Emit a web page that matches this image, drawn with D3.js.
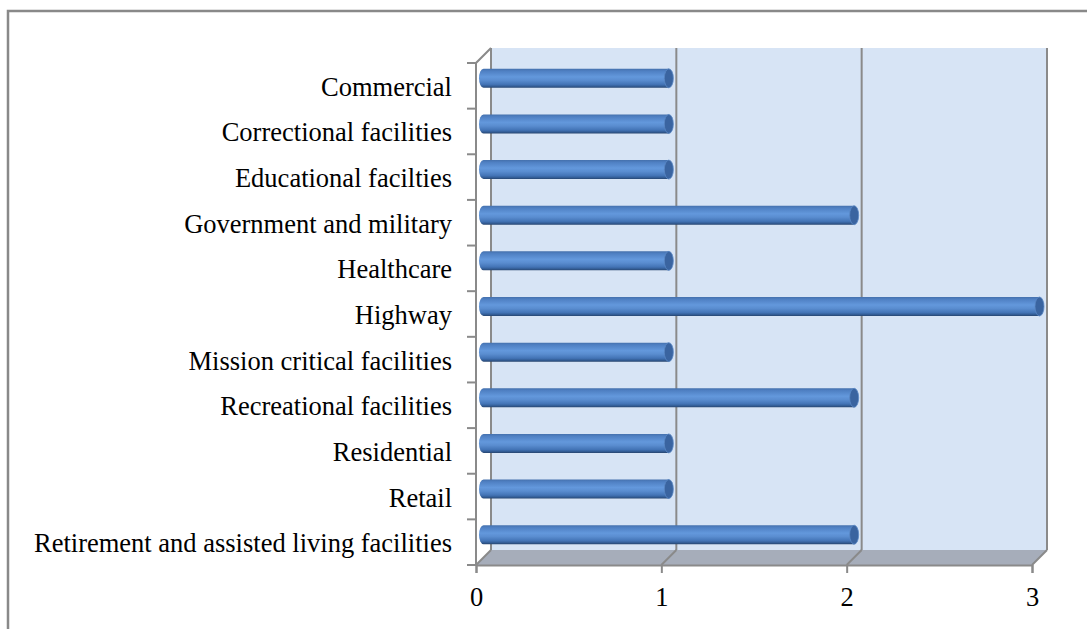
<!DOCTYPE html><html><meta charset="UTF-8">
<title>Sectors</title>
<style>
  body { margin: 0; overflow: hidden; background: #fff; }
  .lbl { font: 26.5px "Liberation Serif", "Times New Roman", serif; fill: #000; }
  .edge { stroke: #8a8a8a; stroke-width: 2; fill: none; }
</style>
<script src="https://cdn.jsdelivr.net/npm/d3@7/dist/d3.min.js"></script>
<svg width="1087" height="629"></svg>
<script>

var categories = ["Commercial", "Correctional facilities", "Educational facilties",
      "Government and military", "Healthcare", "Highway", "Mission critical facilities",
      "Recreational facilities", "Residential", "Retail",
      "Retirement and assisted living facilities"],
    values = [1, 1, 1, 2, 1, 3, 1, 2, 1, 1, 2],
    xTicks = [0, 1, 2, 3];

var svg = d3.select("svg"),
    dep = 15;   // 3d depth offset

var x = d3.scaleLinear().domain([0, 3]).range([476, 1032]),
    y = d3.scaleBand().domain(categories).range([63, 565]);

var wallTop = y.range()[0] - dep, floorY = y.range()[1];

// outer border
svg.append("rect").attr("x", 8).attr("y", 11).attr("width", 1200).attr("height", 800)
   .attr("fill", "none").attr("stroke", "#898989").attr("stroke-width", 2.5);

// back wall
svg.append("rect")
   .attr("x", x(0) + dep).attr("y", wallTop)
   .attr("width", x(3) - x(0)).attr("height", floorY - dep - wallTop)
   .attr("fill", "#d7e4f5");

// floor
svg.append("polygon")
   .attr("points", [[x(0), floorY], [x(0) + dep, floorY - dep], [x(3) + dep, floorY - dep], [x(3), floorY]].join(" "))
   .attr("fill", "#a6adba");

// gridlines on wall and floor
var grid = svg.append("g");
xTicks.forEach(function(t) {
  grid.append("line").attr("class", "edge")
      .attr("x1", x(t) + dep).attr("x2", x(t) + dep)
      .attr("y1", wallTop).attr("y2", floorY - dep);
  grid.append("line").attr("class", "edge")
      .attr("x1", x(t)).attr("y1", floorY)
      .attr("x2", x(t) + dep).attr("y2", floorY - dep);
});

// left side wall edges
svg.append("path").attr("class", "edge")
   .attr("d", "M" + x(0) + "," + floorY + "V" + y.range()[0] + "L" + (x(0) + dep) + "," + wallTop);

// category ticks
var bounds = categories.map(function(c) { return y(c); }).concat([floorY]);
svg.append("g").selectAll("line").data(bounds).enter().append("line")
   .attr("class", "edge")
   .attr("x1", x(0) - 9).attr("x2", x(0))
   .attr("y1", function(d) { return d; }).attr("y2", function(d) { return d; });

// x axis
var xAxis = svg.append("g").attr("transform", "translate(0," + floorY + ")")
   .call(d3.axisBottom(x).tickValues(xTicks).tickSizeOuter(0).tickSize(8).tickPadding(14).tickFormat(d3.format("d")));
xAxis.select(".domain").attr("stroke", "#8a8a8a").attr("stroke-width", 2);
xAxis.selectAll(".tick line").attr("stroke", "#8a8a8a").attr("stroke-width", 2);
xAxis.selectAll(".tick text").attr("class", "lbl").attr("fill", "#000");

// bar gradient
var defs = svg.append("defs");
var grad = defs.append("linearGradient").attr("id", "cyl").attr("x1", 0).attr("y1", 0).attr("x2", 0).attr("y2", 1);
[[0, "#4571ad"], [0.12, "#4f80c3"], [0.42, "#6398dc"], [0.6, "#5a8dd0"], [0.82, "#4374b6"], [0.92, "#335d96"], [1, "#27456f"]]
  .forEach(function(s) { grad.append("stop").attr("offset", s[0]).attr("stop-color", s[1]); });

var bh = 19, rx = 4.5, half = dep / 2;
var bars = svg.append("g").selectAll("g").data(categories).enter().append("g");

bars.append("path")
   .attr("fill", "url(#cyl)")
   .attr("d", function(c, i) {
     var x0 = x(0) + half, x1 = x(values[i]) + half,
         cy = y(c) + y.bandwidth() / 2 - half, y0 = cy - bh / 2, y1 = cy + bh / 2;
     return "M" + x1 + "," + y0 + "H" + x0 + "A" + rx + "," + (bh / 2) + " 0 0 0 " + x0 + "," + y1 +
            "H" + x1 + "Z";
   });

bars.append("ellipse")
   .attr("cx", function(c, i) { return x(values[i]) + half; })
   .attr("cy", function(c) { return y(c) + y.bandwidth() / 2 - half; })
   .attr("rx", rx).attr("ry", bh / 2)
   .attr("fill", "#3a64a0").attr("stroke", "#5b88c4").attr("stroke-width", 0.8);

// category labels
svg.append("g").selectAll("text").data(categories).enter().append("text")
   .attr("class", "lbl")
   .attr("x", 452)
   .attr("y", function(c) { return y(c) + y.bandwidth() / 2 + 10; })
   .attr("text-anchor", "end")
   .text(function(c) { return c; });

</script>
</html>
